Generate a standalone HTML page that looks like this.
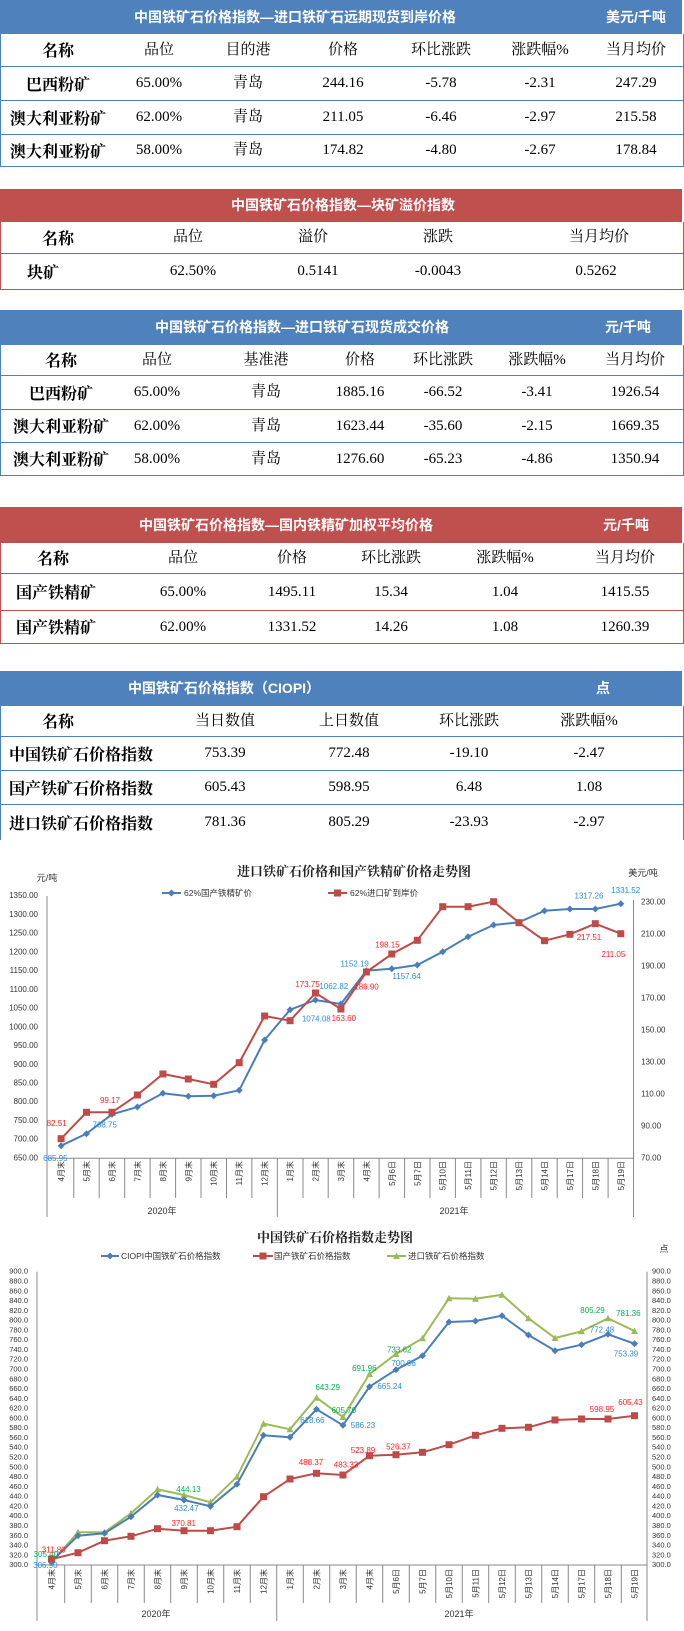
<!DOCTYPE html>
<html><head><meta charset="utf-8">
<style>
body{margin:0;width:684px;height:1631px;position:relative;background:#fff;overflow:hidden;font-family:"Liberation Serif","Noto Serif CJK SC",serif;}
.r{position:absolute;left:0;width:682px;box-sizing:content-box;}
.b{border-left:1px solid #4f81bd;border-right:1px solid #4f81bd;border-bottom:1px solid #4f81bd;}
.d{border-left:1px solid #c0504d;border-right:1px solid #c0504d;border-bottom:1px solid #c0504d;}
.hb{background:#4f81bd;color:#fff;font-weight:bold;font-size:14px;font-family:"Liberation Sans","Noto Sans CJK SC",sans-serif;}
.hd{background:#c0504d;color:#fff;font-weight:bold;font-size:14px;font-family:"Liberation Sans","Noto Sans CJK SC",sans-serif;}
.r i{position:absolute;top:0;width:130px;margin-left:-65px;text-align:center;font-style:normal;line-height:inherit;white-space:nowrap;}
.c{font-size:15px;color:#000;}
.c i{font-size:15px;}
.n{font-weight:bold;font-size:16px!important;font-family:"Noto Serif CJK SC",serif;}
svg text{font-family:"Liberation Sans","Noto Sans CJK SC",sans-serif;}
</style></head><body>

<!-- Table 1 -->
<div class="r hb" style="top:0;height:34px;line-height:34px;"><i style="left:295px;width:400px;margin-left:-200px">中国铁矿石价格指数—进口铁矿石远期现货到岸价格</i><i style="left:636px">美元/千吨</i></div>
<div class="r b c" style="top:34px;height:32px;line-height:32px;"><i class="n" style="left:57px">名称</i><i style="left:158px">品位</i><i style="left:247px">目的港</i><i style="left:342px">价格</i><i style="left:440px">环比涨跌</i><i style="left:539px">涨跌幅%</i><i style="left:635px">当月均价</i></div>
<div class="r b c" style="top:67px;height:33px;line-height:33px;"><i class="n" style="left:57px">巴西粉矿</i><i style="left:158px">65.00%</i><i style="left:247px">青岛</i><i style="left:342px">244.16</i><i style="left:440px">-5.78</i><i style="left:539px">-2.31</i><i style="left:635px">247.29</i></div>
<div class="r b c" style="top:101px;height:33px;line-height:33px;"><i class="n" style="left:57px">澳大利亚粉矿</i><i style="left:158px">62.00%</i><i style="left:247px">青岛</i><i style="left:342px">211.05</i><i style="left:440px">-6.46</i><i style="left:539px">-2.97</i><i style="left:635px">215.58</i></div>
<div class="r b c" style="top:135px;height:31px;line-height:31px;"><i class="n" style="left:57px">澳大利亚粉矿</i><i style="left:158px">58.00%</i><i style="left:247px">青岛</i><i style="left:342px">174.82</i><i style="left:440px">-4.80</i><i style="left:539px">-2.67</i><i style="left:635px">178.84</i></div>

<!-- Table 2 -->
<div class="r hd" style="top:189px;height:33px;line-height:33px;"><i style="left:343px;width:400px;margin-left:-200px">中国铁矿石价格指数—块矿溢价指数</i></div>
<div class="r d c" style="top:222px;height:31px;line-height:31px;"><i class="n" style="left:57px">名称</i><i style="left:187px">品位</i><i style="left:312px">溢价</i><i style="left:437px">涨跌</i><i style="left:598px">当月均价</i></div>
<div class="r d c" style="top:254px;height:35px;line-height:35px;"><i class="n" style="left:42px">块矿</i><i style="left:192px">62.50%</i><i style="left:317px">0.5141</i><i style="left:437px">-0.0043</i><i style="left:595px">0.5262</i></div>

<!-- Table 3 -->
<div class="r hb" style="top:310px;height:35px;line-height:35px;"><i style="left:302px;width:400px;margin-left:-200px">中国铁矿石价格指数—进口铁矿石现货成交价格</i><i style="left:628px">元/千吨</i></div>
<div class="r b c" style="top:345px;height:30px;line-height:30px;"><i class="n" style="left:60px">名称</i><i style="left:156px">品位</i><i style="left:265px">基准港</i><i style="left:359px">价格</i><i style="left:442px">环比涨跌</i><i style="left:536px">涨跌幅%</i><i style="left:634px">当月均价</i></div>
<div class="r b c" style="top:376px;height:33px;line-height:33px;"><i class="n" style="left:60px">巴西粉矿</i><i style="left:156px">65.00%</i><i style="left:265px">青岛</i><i style="left:359px">1885.16</i><i style="left:442px">-66.52</i><i style="left:536px">-3.41</i><i style="left:634px">1926.54</i></div>
<div class="r b c" style="top:410px;height:32px;line-height:32px;"><i class="n" style="left:60px">澳大利亚粉矿</i><i style="left:156px">62.00%</i><i style="left:265px">青岛</i><i style="left:359px">1623.44</i><i style="left:442px">-35.60</i><i style="left:536px">-2.15</i><i style="left:634px">1669.35</i></div>
<div class="r b c" style="top:443px;height:32px;line-height:32px;"><i class="n" style="left:60px">澳大利亚粉矿</i><i style="left:156px">58.00%</i><i style="left:265px">青岛</i><i style="left:359px">1276.60</i><i style="left:442px">-65.23</i><i style="left:536px">-4.86</i><i style="left:634px">1350.94</i></div>

<!-- Table 4 -->
<div class="r hd" style="top:507px;height:36px;line-height:36px;"><i style="left:286px;width:400px;margin-left:-200px">中国铁矿石价格指数—国内铁精矿加权平均价格</i><i style="left:626px">元/千吨</i></div>
<div class="r d c" style="top:543px;height:30px;line-height:30px;"><i class="n" style="left:52px">名称</i><i style="left:182px">品位</i><i style="left:291px">价格</i><i style="left:390px">环比涨跌</i><i style="left:504px">涨跌幅%</i><i style="left:624px">当月均价</i></div>
<div class="r d c" style="top:574px;height:36px;line-height:36px;"><i class="n" style="left:55px">国产铁精矿</i><i style="left:182px">65.00%</i><i style="left:291px">1495.11</i><i style="left:390px">15.34</i><i style="left:504px">1.04</i><i style="left:624px">1415.55</i></div>
<div class="r d c" style="top:611px;height:32px;line-height:32px;"><i class="n" style="left:55px">国产铁精矿</i><i style="left:182px">62.00%</i><i style="left:291px">1331.52</i><i style="left:390px">14.26</i><i style="left:504px">1.08</i><i style="left:624px">1260.39</i></div>

<!-- Table 5 -->
<div class="r hb" style="top:671px;height:35px;line-height:35px;"><i style="left:224px;width:300px;margin-left:-150px">中国铁矿石价格指数（CIOPI）</i><i style="left:603px">点</i></div>
<div class="r b c" style="top:706px;height:30px;line-height:30px;"><i class="n" style="left:57px">名称</i><i style="left:224px">当日数值</i><i style="left:348px">上日数值</i><i style="left:468px">环比涨跌</i><i style="left:588px">涨跌幅%</i></div>
<div class="r b c" style="top:737px;height:33px;line-height:33px;"><i class="n" style="left:80px;width:160px;margin-left:-80px">中国铁矿石价格指数</i><i style="left:224px">753.39</i><i style="left:348px">772.48</i><i style="left:468px">-19.10</i><i style="left:588px">-2.47</i></div>
<div class="r b c" style="top:771px;height:33px;line-height:33px;"><i class="n" style="left:80px;width:160px;margin-left:-80px">国产铁矿石价格指数</i><i style="left:224px">605.43</i><i style="left:348px">598.95</i><i style="left:468px">6.48</i><i style="left:588px">1.08</i></div>
<div class="r c" style="top:805px;height:35px;line-height:35px;border-left:1px solid #4f81bd;border-right:1px solid #4f81bd;"><i class="n" style="left:80px;width:160px;margin-left:-80px">进口铁矿石价格指数</i><i style="left:224px">781.36</i><i style="left:348px">805.29</i><i style="left:468px">-23.93</i><i style="left:588px">-2.97</i></div>

<svg style="position:absolute;left:0;top:0" width="684" height="1631" viewBox="0 0 684 1631">
<defs>
<marker id="dm" markerUnits="userSpaceOnUse" markerWidth="8" markerHeight="8" refX="4" refY="4"><path d="M4 0.5L7.5 4L4 7.5L0.5 4Z" fill="#4a7ebb"/></marker>
<marker id="sm" markerUnits="userSpaceOnUse" markerWidth="8" markerHeight="8" refX="4" refY="4"><rect x="0.5" y="0.5" width="7" height="7" fill="#be4b48"/></marker>
<marker id="tm" markerUnits="userSpaceOnUse" markerWidth="8" markerHeight="8" refX="4" refY="4"><path d="M4 0.5L7.5 7L0.5 7Z" fill="#9bbb59"/></marker>
</defs>

<!-- CHART 1 -->
<text x="354" y="876" text-anchor="middle" font-size="13" font-weight="bold" fill="#222" style="font-family:'Noto Serif CJK SC',serif">进口铁矿石价格和国产铁精矿价格走势图</text>
<text x="47" y="881" text-anchor="middle" font-size="9" fill="#333">元/吨</text>
<text x="643" y="876" text-anchor="middle" font-size="9" fill="#333">美元/吨</text>
<line x1="162" y1="893" x2="181" y2="893" stroke="#4a7ebb" stroke-width="2"/><path d="M171.5 889.5L175 893L171.5 896.5L168 893Z" fill="#4a7ebb"/>
<text x="184" y="896" font-size="8.5" fill="#333">62%国产铁精矿价</text>
<line x1="328" y1="893" x2="347" y2="893" stroke="#be4b48" stroke-width="2"/><rect x="334" y="889.5" width="7" height="7" fill="#be4b48"/>
<text x="350" y="896" font-size="8.5" fill="#333">62%进口矿到岸价</text>
<g stroke="#888" stroke-width="1">
<line x1="47" y1="896" x2="47" y2="1158.3"/><line x1="633.5" y1="900" x2="633.5" y2="1158.3"/>
<line x1="47" y1="1158.3" x2="633.5" y2="1158.3"/>
</g>
<g font-size="8" fill="#333" text-anchor="end" dominant-baseline="middle">
<text x="38" y="896">1350.00</text><text x="38" y="914.7">1300.00</text><text x="38" y="933.5">1250.00</text><text x="38" y="952.2">1200.00</text><text x="38" y="971">1150.00</text><text x="38" y="989.7">1100.00</text><text x="38" y="1008.4">1050.00</text><text x="38" y="1027.2">1000.00</text><text x="38" y="1045.9">950.00</text><text x="38" y="1064.7">900.00</text><text x="38" y="1083.4">850.00</text><text x="38" y="1102.1">800.00</text><text x="38" y="1120.9">750.00</text><text x="38" y="1139.6">700.00</text><text x="38" y="1158.3">650.00</text>
</g>
<g font-size="8" fill="#333" dominant-baseline="middle">
<text x="641" y="902.3">230.00</text><text x="641" y="934.3">210.00</text><text x="641" y="966.3">190.00</text><text x="641" y="998.3">170.00</text><text x="641" y="1030.3">150.00</text><text x="641" y="1062.3">130.00</text><text x="641" y="1094.3">110.00</text><text x="641" y="1126.3">90.00</text><text x="641" y="1158.3">70.00</text>
</g>
<g stroke="#888" stroke-width="1">
<line x1="73.8" y1="1158" x2="73.8" y2="1198"/><line x1="99.2" y1="1158" x2="99.2" y2="1198"/><line x1="124.7" y1="1158" x2="124.7" y2="1198"/><line x1="150.1" y1="1158" x2="150.1" y2="1198"/><line x1="175.6" y1="1158" x2="175.6" y2="1198"/><line x1="201" y1="1158" x2="201" y2="1198"/><line x1="226.5" y1="1158" x2="226.5" y2="1198"/><line x1="251.9" y1="1158" x2="251.9" y2="1198"/><line x1="303" y1="1158" x2="303" y2="1198"/><line x1="328.2" y1="1158" x2="328.2" y2="1198"/><line x1="353.7" y1="1158" x2="353.7" y2="1198"/><line x1="379.1" y1="1158" x2="379.1" y2="1198"/><line x1="404.6" y1="1158" x2="404.6" y2="1198"/><line x1="430" y1="1158" x2="430" y2="1198"/><line x1="455.4" y1="1158" x2="455.4" y2="1198"/><line x1="480.9" y1="1158" x2="480.9" y2="1198"/><line x1="506.3" y1="1158" x2="506.3" y2="1198"/><line x1="531.8" y1="1158" x2="531.8" y2="1198"/><line x1="557.2" y1="1158" x2="557.2" y2="1198"/><line x1="582.6" y1="1158" x2="582.6" y2="1198"/><line x1="608.1" y1="1158" x2="608.1" y2="1198"/>
<line x1="47" y1="1158" x2="47" y2="1217"/><line x1="277.3" y1="1158" x2="277.3" y2="1217"/><line x1="633.5" y1="1158" x2="633.5" y2="1217"/>
</g>
<g font-size="8" fill="#333" text-anchor="end">
<text transform="translate(64,1161) rotate(-90)">4月末</text><text transform="translate(89.5,1161) rotate(-90)">5月末</text><text transform="translate(115,1161) rotate(-90)">6月末</text><text transform="translate(140.4,1161) rotate(-90)">7月末</text><text transform="translate(165.9,1161) rotate(-90)">8月末</text><text transform="translate(191.3,1161) rotate(-90)">9月末</text><text transform="translate(216.7,1161) rotate(-90)">10月末</text><text transform="translate(242.2,1161) rotate(-90)">11月末</text><text transform="translate(267.6,1161) rotate(-90)">12月末</text><text transform="translate(293.1,1161) rotate(-90)">1月末</text><text transform="translate(318.5,1161) rotate(-90)">2月末</text><text transform="translate(343.9,1161) rotate(-90)">3月末</text><text transform="translate(369.4,1161) rotate(-90)">4月末</text><text transform="translate(394.8,1161) rotate(-90)">5月6日</text><text transform="translate(420.3,1161) rotate(-90)">5月7日</text><text transform="translate(445.7,1161) rotate(-90)">5月10日</text><text transform="translate(471.1,1161) rotate(-90)">5月11日</text><text transform="translate(496.6,1161) rotate(-90)">5月12日</text><text transform="translate(522,1161) rotate(-90)">5月13日</text><text transform="translate(547.5,1161) rotate(-90)">5月14日</text><text transform="translate(572.9,1161) rotate(-90)">5月17日</text><text transform="translate(598.3,1161) rotate(-90)">5月18日</text><text transform="translate(623.8,1161) rotate(-90)">5月19日</text>
</g>
<text x="162" y="1214" text-anchor="middle" font-size="9" fill="#333">2020年</text>
<text x="454" y="1214" text-anchor="middle" font-size="9" fill="#333">2021年</text>
<polyline fill="none" stroke="#4a7ebb" stroke-width="2" marker-start="url(#dm)" marker-mid="url(#dm)" marker-end="url(#dm)" points="61.1,1145.7 86.5,1133.7 112,1114.3 137.4,1107 162.9,1093.3 188.3,1096.3 213.7,1095.7 239.2,1090.3 264.6,1040 290.1,1009.7 315.5,1000 340.9,1004 366.4,970.7 391.8,968.7 417.3,965 442.7,951.7 468.1,936.7 493.6,925 519,922.3 544.5,910.7 569.9,909 595.3,909 620.8,903.7"/>
<polyline fill="none" stroke="#be4b48" stroke-width="2" marker-start="url(#sm)" marker-mid="url(#sm)" marker-end="url(#sm)" points="61.1,1138.7 86.5,1112.3 112,1112.3 137.4,1095 162.9,1074 188.3,1079 213.7,1084.3 239.2,1062.7 264.6,1016 290.1,1020.7 315.5,993 340.9,1009 366.4,972 391.8,954 417.3,940.3 442.7,906.7 468.1,906.7 493.6,901.7 519,922.7 544.5,940.7 569.9,934.3 595.3,923.7 620.8,933.7"/>
<g font-size="8" fill="#ff2020" text-anchor="middle" dominant-baseline="middle">
<text x="56.7" y="1124">82.51</text><text x="110" y="1101">99.17</text><text x="307.6" y="984.7">173.75</text><text x="343.8" y="1018.7">163.60</text><text x="366.5" y="987.3">186.90</text><text x="387.4" y="945.3">198.15</text><text x="589" y="937.7">217.51</text><text x="613.4" y="954.7">211.05</text>
</g>
<g font-size="8" fill="#2e8bd8" text-anchor="middle" dominant-baseline="middle">
<text x="55.4" y="1159">685.95</text><text x="104.7" y="1125.3">768.75</text><text x="316.3" y="1019.3">1074.08</text><text x="333.8" y="986.7">1062.82</text><text x="354.7" y="964.3">1152.19</text><text x="406.6" y="976.7">1157.64</text><text x="589" y="896.3">1317.26</text><text x="625.7" y="891">1331.52</text>
</g>

<!-- CHART 2 -->
<text x="335" y="1242" text-anchor="middle" font-size="13" font-weight="bold" fill="#222" style="font-family:'Noto Serif CJK SC',serif">中国铁矿石价格指数走势图</text>
<text x="664" y="1252" text-anchor="middle" font-size="9" fill="#333">点</text>
<line x1="101" y1="1256" x2="119" y2="1256" stroke="#4a7ebb" stroke-width="2"/><path d="M110 1252.5L113.5 1256L110 1259.5L106.5 1256Z" fill="#4a7ebb"/>
<text x="121" y="1259" font-size="8.5" fill="#333">CIOPI中国铁矿石价格指数</text>
<line x1="253" y1="1256" x2="273" y2="1256" stroke="#be4b48" stroke-width="2"/><rect x="259.5" y="1252.5" width="7" height="7" fill="#be4b48"/>
<text x="274" y="1259" font-size="8.5" fill="#333">国产铁矿石价格指数</text>
<line x1="387" y1="1256" x2="406" y2="1256" stroke="#9bbb59" stroke-width="2"/><path d="M396.5 1252.5L400 1259L393 1259Z" fill="#9bbb59"/>
<text x="408" y="1259" font-size="8.5" fill="#333">进口铁矿石价格指数</text>
<g stroke="#888" stroke-width="1">
<line x1="37" y1="1271.7" x2="37" y2="1565"/><line x1="647" y1="1271.7" x2="647" y2="1565"/>
<line x1="37" y1="1565" x2="647" y2="1565"/>
</g>
<g font-size="7.5" fill="#333" text-anchor="end" dominant-baseline="middle">
<text x="28" y="1271.7">900.0</text><text x="28" y="1281.5">880.0</text><text x="28" y="1291.3">860.0</text><text x="28" y="1301">840.0</text><text x="28" y="1310.8">820.0</text><text x="28" y="1320.6">800.0</text><text x="28" y="1330.4">780.0</text><text x="28" y="1340.2">760.0</text><text x="28" y="1349.9">740.0</text><text x="28" y="1359.7">720.0</text><text x="28" y="1369.5">700.0</text><text x="28" y="1379.3">680.0</text><text x="28" y="1389.1">660.0</text><text x="28" y="1398.8">640.0</text><text x="28" y="1408.6">620.0</text><text x="28" y="1418.4">600.0</text><text x="28" y="1428.2">580.0</text><text x="28" y="1438">560.0</text><text x="28" y="1447.7">540.0</text><text x="28" y="1457.5">520.0</text><text x="28" y="1467.3">500.0</text><text x="28" y="1477.1">480.0</text><text x="28" y="1486.9">460.0</text><text x="28" y="1496.6">440.0</text><text x="28" y="1506.4">420.0</text><text x="28" y="1516.2">400.0</text><text x="28" y="1526">380.0</text><text x="28" y="1535.8">360.0</text><text x="28" y="1545.5">340.0</text><text x="28" y="1555.3">320.0</text><text x="28" y="1565.1">300.0</text>
</g>
<g font-size="7.5" fill="#333" dominant-baseline="middle">
<text x="652" y="1271.7">900.0</text><text x="652" y="1281.5">880.0</text><text x="652" y="1291.3">860.0</text><text x="652" y="1301">840.0</text><text x="652" y="1310.8">820.0</text><text x="652" y="1320.6">800.0</text><text x="652" y="1330.4">780.0</text><text x="652" y="1340.2">760.0</text><text x="652" y="1349.9">740.0</text><text x="652" y="1359.7">720.0</text><text x="652" y="1369.5">700.0</text><text x="652" y="1379.3">680.0</text><text x="652" y="1389.1">660.0</text><text x="652" y="1398.8">640.0</text><text x="652" y="1408.6">620.0</text><text x="652" y="1418.4">600.0</text><text x="652" y="1428.2">580.0</text><text x="652" y="1438">560.0</text><text x="652" y="1447.7">540.0</text><text x="652" y="1457.5">520.0</text><text x="652" y="1467.3">500.0</text><text x="652" y="1477.1">480.0</text><text x="652" y="1486.9">460.0</text><text x="652" y="1496.6">440.0</text><text x="652" y="1506.4">420.0</text><text x="652" y="1516.2">400.0</text><text x="652" y="1526">380.0</text><text x="652" y="1535.8">360.0</text><text x="652" y="1545.5">340.0</text><text x="652" y="1555.3">320.0</text><text x="652" y="1565.1">300.0</text>
</g>
<g stroke="#888" stroke-width="1">
<line x1="64.75" y1="1565" x2="64.75" y2="1603"/><line x1="91.25" y1="1565" x2="91.25" y2="1603"/><line x1="117.75" y1="1565" x2="117.75" y2="1603"/><line x1="144.25" y1="1565" x2="144.25" y2="1603"/><line x1="170.75" y1="1565" x2="170.75" y2="1603"/><line x1="197.25" y1="1565" x2="197.25" y2="1603"/><line x1="223.75" y1="1565" x2="223.75" y2="1603"/><line x1="250.25" y1="1565" x2="250.25" y2="1603"/><line x1="303.25" y1="1565" x2="303.25" y2="1603"/><line x1="329.75" y1="1565" x2="329.75" y2="1603"/><line x1="356.25" y1="1565" x2="356.25" y2="1603"/><line x1="382.75" y1="1565" x2="382.75" y2="1603"/><line x1="409.25" y1="1565" x2="409.25" y2="1603"/><line x1="435.75" y1="1565" x2="435.75" y2="1603"/><line x1="462.25" y1="1565" x2="462.25" y2="1603"/><line x1="488.75" y1="1565" x2="488.75" y2="1603"/><line x1="515.25" y1="1565" x2="515.25" y2="1603"/><line x1="541.75" y1="1565" x2="541.75" y2="1603"/><line x1="568.25" y1="1565" x2="568.25" y2="1603"/><line x1="594.75" y1="1565" x2="594.75" y2="1603"/><line x1="621.25" y1="1565" x2="621.25" y2="1603"/>
<line x1="37" y1="1565" x2="37" y2="1621"/><line x1="276.75" y1="1565" x2="276.75" y2="1621"/><line x1="647" y1="1565" x2="647" y2="1621"/>
</g>
<g font-size="8" fill="#333" text-anchor="end">
<text transform="translate(54.5,1569) rotate(-90)">4月末</text><text transform="translate(81,1569) rotate(-90)">5月末</text><text transform="translate(107.5,1569) rotate(-90)">6月末</text><text transform="translate(134,1569) rotate(-90)">7月末</text><text transform="translate(160.5,1569) rotate(-90)">8月末</text><text transform="translate(187,1569) rotate(-90)">9月末</text><text transform="translate(213.5,1569) rotate(-90)">10月末</text><text transform="translate(240,1569) rotate(-90)">11月末</text><text transform="translate(266.5,1569) rotate(-90)">12月末</text><text transform="translate(293,1569) rotate(-90)">1月末</text><text transform="translate(319.5,1569) rotate(-90)">2月末</text><text transform="translate(346,1569) rotate(-90)">3月末</text><text transform="translate(372.5,1569) rotate(-90)">4月末</text><text transform="translate(399,1569) rotate(-90)">5月6日</text><text transform="translate(425.5,1569) rotate(-90)">5月7日</text><text transform="translate(452,1569) rotate(-90)">5月10日</text><text transform="translate(478.5,1569) rotate(-90)">5月11日</text><text transform="translate(505,1569) rotate(-90)">5月12日</text><text transform="translate(531.5,1569) rotate(-90)">5月13日</text><text transform="translate(558,1569) rotate(-90)">5月14日</text><text transform="translate(584.5,1569) rotate(-90)">5月17日</text><text transform="translate(611,1569) rotate(-90)">5月18日</text><text transform="translate(637.5,1569) rotate(-90)">5月19日</text>
</g>
<text x="156" y="1617" text-anchor="middle" font-size="9" fill="#333">2020年</text>
<text x="459" y="1617" text-anchor="middle" font-size="9" fill="#333">2021年</text>
<polyline fill="none" stroke="#9bbb59" stroke-width="2" marker-start="url(#tm)" marker-mid="url(#tm)" marker-end="url(#tm)" points="51.5,1562.4 78,1532.3 104.5,1532.3 131,1513.3 157.5,1489.3 184,1495 210.5,1502.3 237,1476.7 263.5,1423.7 290,1429.3 316.5,1397.7 343,1417 369.5,1374 396,1354 422.5,1338.3 449,1298.3 475.5,1298.7 502,1294.7 528.5,1318.3 555,1338 581.5,1331.3 608,1318.3 634.5,1331"/>
<polyline fill="none" stroke="#4a7ebb" stroke-width="2" marker-start="url(#dm)" marker-mid="url(#dm)" marker-end="url(#dm)" points="51.5,1561.6 78,1535.7 104.5,1533.3 131,1516.7 157.5,1495 184,1500 210.5,1506.3 237,1484.3 263.5,1435.3 290,1437.3 316.5,1409.3 343,1425.3 369.5,1386.7 396,1369.7 422.5,1355.7 449,1322 475.5,1321 502,1315.7 528.5,1335 555,1350.7 581.5,1344.7 608,1334.3 634.5,1343.7"/>
<polyline fill="none" stroke="#be4b48" stroke-width="2" marker-start="url(#sm)" marker-mid="url(#sm)" marker-end="url(#sm)" points="51.5,1559.2 78,1552.7 104.5,1540.7 131,1536.3 157.5,1528.7 184,1530.7 210.5,1530.7 237,1526.7 263.5,1496.7 290,1479 316.5,1473.3 343,1475 369.5,1455.7 396,1454.7 422.5,1452.3 449,1444.7 475.5,1435.3 502,1428.3 528.5,1427.3 555,1420 581.5,1419 608,1419 634.5,1415.7"/>
<g font-size="8" fill="#00b050" text-anchor="middle" dominant-baseline="middle">
<text x="45.8" y="1555">305.40</text><text x="188.5" y="1490">444.13</text><text x="327.7" y="1387.7">643.29</text><text x="343.8" y="1410.7">605.70</text><text x="364.3" y="1369">691.96</text><text x="399.2" y="1350.3">733.62</text><text x="592.5" y="1310.7">805.29</text><text x="628.3" y="1314">781.36</text>
</g>
<g font-size="8" fill="#2e8bd8" text-anchor="middle" dominant-baseline="middle">
<text x="45.4" y="1565.7">306.90</text><text x="186.3" y="1508.7">432.47</text><text x="312.4" y="1421">618.66</text><text x="363" y="1425.7">586.23</text><text x="389.6" y="1387">665.24</text><text x="403.6" y="1363.7">700.96</text><text x="602" y="1330.3">772.48</text><text x="626" y="1354.3">753.39</text>
</g>
<g font-size="8" fill="#ff2020" text-anchor="middle" dominant-baseline="middle">
<text x="53.7" y="1550.3">311.80</text><text x="183.7" y="1524">370.81</text><text x="311" y="1462.7">488.37</text><text x="346" y="1465.3">483.33</text><text x="363" y="1451">523.89</text><text x="398.3" y="1447.3">526.37</text><text x="602" y="1410">598.95</text><text x="630.5" y="1402.7">605.43</text>
</g>
</svg>
</body></html>
